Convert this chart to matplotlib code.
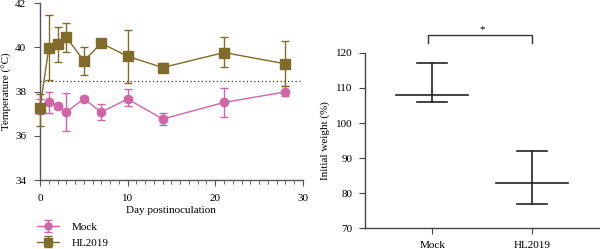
import matplotlib
matplotlib.use("Agg")
import matplotlib.pyplot as plt
from matplotlib.ticker import MultipleLocator
import numpy as np

plt.rcParams['font.family'] = ['Liberation Serif', 'DejaVu Serif']

# ---- data: temperature over time ----
days = [0, 1, 2, 3, 5, 7, 10, 14, 21, 28]
mock_temp = [37.32, 37.52, 37.35, 37.07, 37.68, 37.07, 37.67, 36.76, 37.51, 37.99]
mock_err_hi = [0.35, 0.47, 0.15, 0.86, 0.12, 0.35, 0.43, 0.26, 0.64, 0.26]
mock_err_lo = [0.35, 0.50, 0.15, 0.84, 0.12, 0.37, 0.32, 0.27, 0.64, 0.21]
hl_temp = [37.28, 39.96, 40.15, 40.47, 39.39, 40.19, 39.60, 39.09, 39.77, 39.26]
hl_err_hi = [0.60, 1.50, 0.79, 0.65, 0.65, 0.17, 1.20, 0.19, 0.69, 1.03]
hl_err_lo = [0.85, 1.43, 0.82, 0.66, 0.63, 0.15, 1.20, 0.14, 0.64, 1.00]
threshold = 38.5

# ---- data: weight ----
groups = ['Mock', 'HL2019']
weight_mean = [108, 83]
weight_hi = [117, 92]
weight_lo = [106, 77]

pink = '#d066a8'
olive = '#806b2a'

fig = plt.figure(figsize=(6, 2.49), dpi=100)

# Left panel
ax = fig.add_axes([0.0667, 0.277, 0.438, 0.710])
ax.errorbar(days, mock_temp, yerr=[mock_err_lo, mock_err_hi], color=pink, marker='o',
            markersize=6, lw=1, capsize=3, elinewidth=1, capthick=1, label='Mock',
            clip_on=False, zorder=3)
ax.errorbar(days, hl_temp, yerr=[hl_err_lo, hl_err_hi], color=olive, marker='s',
            markersize=6.5, lw=1, capsize=3, elinewidth=1, capthick=1, label='HL2019',
            clip_on=False, zorder=4)
ax.axhline(threshold, color='#333333', lw=0.9, ls=(0, (1, 2)), xmin=0, xmax=1)
ax.set_xlim(0, 30)
ax.set_ylim(34, 42)
ax.xaxis.set_major_locator(MultipleLocator(10))
ax.xaxis.set_minor_locator(MultipleLocator(1))
ax.yaxis.set_major_locator(MultipleLocator(2))
for s in ['top', 'right']:
    ax.spines[s].set_visible(False)
for s in ['left', 'bottom']:
    ax.spines[s].set_color('#555555')
    ax.spines[s].set_linewidth(1)
ax.tick_params(axis='both', which='major', labelsize=8, length=4, color='#555555', pad=6)
ax.tick_params(axis='x', which='minor', length=3, color='#555555')
ax.set_xlabel('Day postinoculation', fontsize=8, labelpad=2)
ax.set_ylabel('Temperature (°C)', fontsize=8, labelpad=2)
leg = ax.legend(loc='upper left', bbox_to_anchor=(0.062, 0.108), bbox_transform=fig.transFigure,
                frameon=False, fontsize=8, handlelength=2.0, handletextpad=1.1,
                labelspacing=0.55, borderaxespad=0, borderpad=0, markerscale=0.85)

# Right panel
ax2 = fig.add_axes([0.608, 0.083, 0.392, 0.705])
x = np.arange(len(groups))
for i in range(len(groups)):
    ax2.plot([x[i] - 0.36, x[i] + 0.36], [weight_mean[i]] * 2, color='#222222', lw=1.2)
    ax2.plot([x[i], x[i]], [weight_lo[i], weight_hi[i]], color='#222222', lw=1.2)
    ax2.plot([x[i] - 0.15, x[i] + 0.15], [weight_hi[i]] * 2, color='#222222', lw=1.2)
    ax2.plot([x[i] - 0.15, x[i] + 0.15], [weight_lo[i]] * 2, color='#222222', lw=1.2)
ax2.set_xlim(-0.673, 1.677)
ax2.set_ylim(70, 120)
ax2.yaxis.set_major_locator(MultipleLocator(10))
ax2.set_xticks(x)
ax2.set_xticklabels(groups)
for s in ['top', 'right']:
    ax2.spines[s].set_visible(False)
for s in ['left', 'bottom']:
    ax2.spines[s].set_color('#444444')
    ax2.spines[s].set_linewidth(1)
ax2.tick_params(axis='both', labelsize=8, length=4, color='#444444', pad=5)
ax2.set_ylabel('Initial weight (%)', fontsize=8, labelpad=4)
# significance bracket
ax2.plot([x[0] - 0.04, x[0] - 0.04, x[1], x[1]], [122.7, 125.2, 125.2, 122.7],
         color='#333333', lw=1, clip_on=False)
ax2.text((x[0] + x[1]) / 2, 125.4, '*', ha='center', va='bottom', fontsize=8)

fig.savefig('out.png', dpi=100)
